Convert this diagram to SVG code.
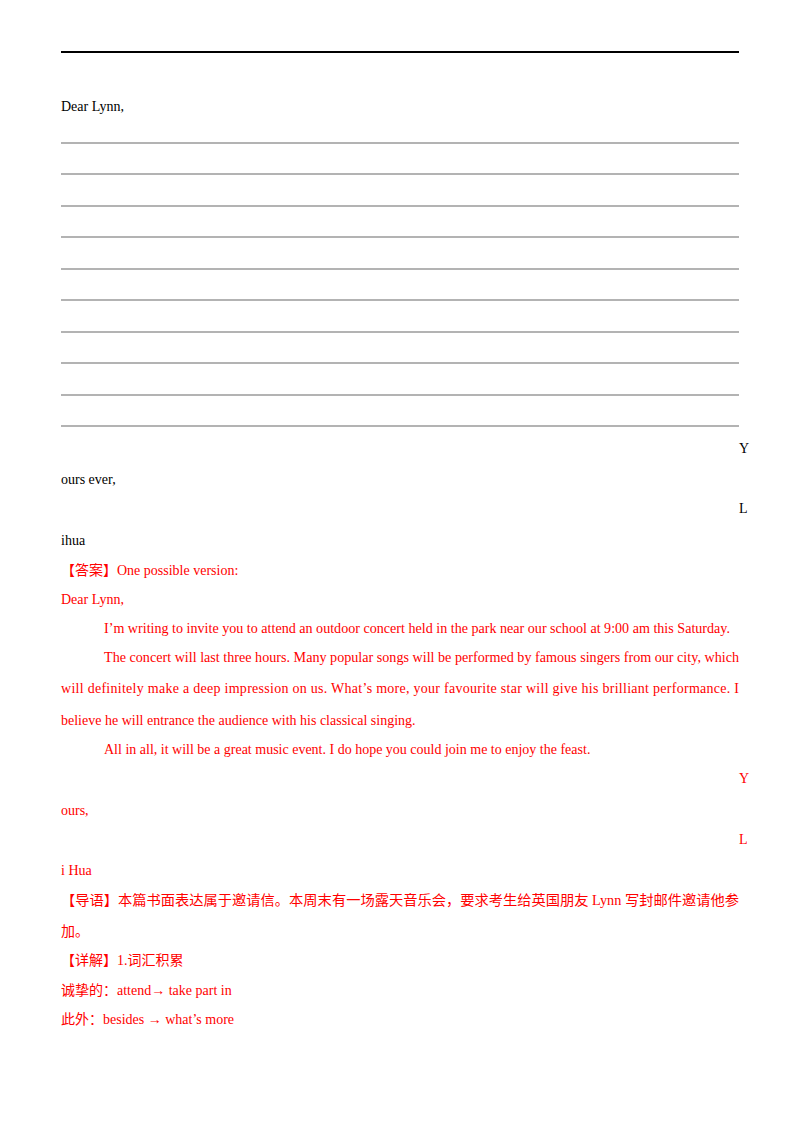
<svg xmlns="http://www.w3.org/2000/svg" width="800" height="1132" viewBox="0 0 800 1132">
<style>
.t{font-family:"Liberation Serif","Noto Sans CJK SC",serif;font-size:14px;fill:#000}
.r{fill:#ff0000}
.l{stroke:#000;stroke-width:0.6}
</style>
<rect width="800" height="1132" fill="#fff"/>
<line x1="61" y1="52" x2="739" y2="52" stroke="#000" stroke-width="2"/>
<text class="t" x="61" y="111">Dear Lynn,</text>
<g class="l">
<line x1="61" y1="143" x2="739" y2="143"/><line x1="61" y1="174" x2="739" y2="174"/>
<line x1="61" y1="206" x2="739" y2="206"/><line x1="61" y1="237" x2="739" y2="237"/>
<line x1="61" y1="269" x2="739" y2="269"/><line x1="61" y1="300" x2="739" y2="300"/>
<line x1="61" y1="332" x2="739" y2="332"/><line x1="61" y1="363" x2="739" y2="363"/>
<line x1="61" y1="395" x2="739" y2="395"/><line x1="61" y1="426" x2="739" y2="426"/>
</g>
<text class="t" x="739" y="453">Y</text>
<text class="t" x="61" y="484">ours ever,</text>
<text class="t" x="739" y="513">L</text>
<text class="t" x="61" y="545">ihua</text>
<g class="t r">
<text x="61" y="575">【答案】One possible version:</text>
<text x="61" y="604">Dear Lynn,</text>
<text x="104" y="633" textLength="626" lengthAdjust="spacingAndGlyphs">I’m writing to invite you to attend an outdoor concert held in the park near our school at 9:00 am this Saturday.</text>
<text x="104" y="662" textLength="635" lengthAdjust="spacingAndGlyphs">The concert will last three hours. Many popular songs will be performed by famous singers from our city, which</text>
<text x="61" y="693" textLength="678" lengthAdjust="spacing">will definitely make a deep impression on us. What’s more, your favourite star will give his brilliant performance. I</text>
<text x="61" y="725">believe he will entrance the audience with his classical singing.</text>
<text x="104" y="754">All in all, it will be a great music event. I do hope you could join me to enjoy the feast.</text>
<text x="739" y="783">Y</text>
<text x="61" y="815">ours,</text>
<text x="739" y="844">L</text>
<text x="61" y="875">i Hua</text>
<text x="61" y="905" textLength="678" lengthAdjust="spacingAndGlyphs">【导语】本篇书面表达属于邀请信。本周末有一场露天音乐会，要求考生给英国朋友 Lynn 写封邮件邀请他参</text>
<text x="61" y="936">加。</text>
<text x="61" y="965">【详解】1.词汇积累</text>
<text x="61" y="995">诚挚的：attend→ take part in</text>
<text x="61" y="1024">此外：besides → what’s more</text>
</g>
</svg>
